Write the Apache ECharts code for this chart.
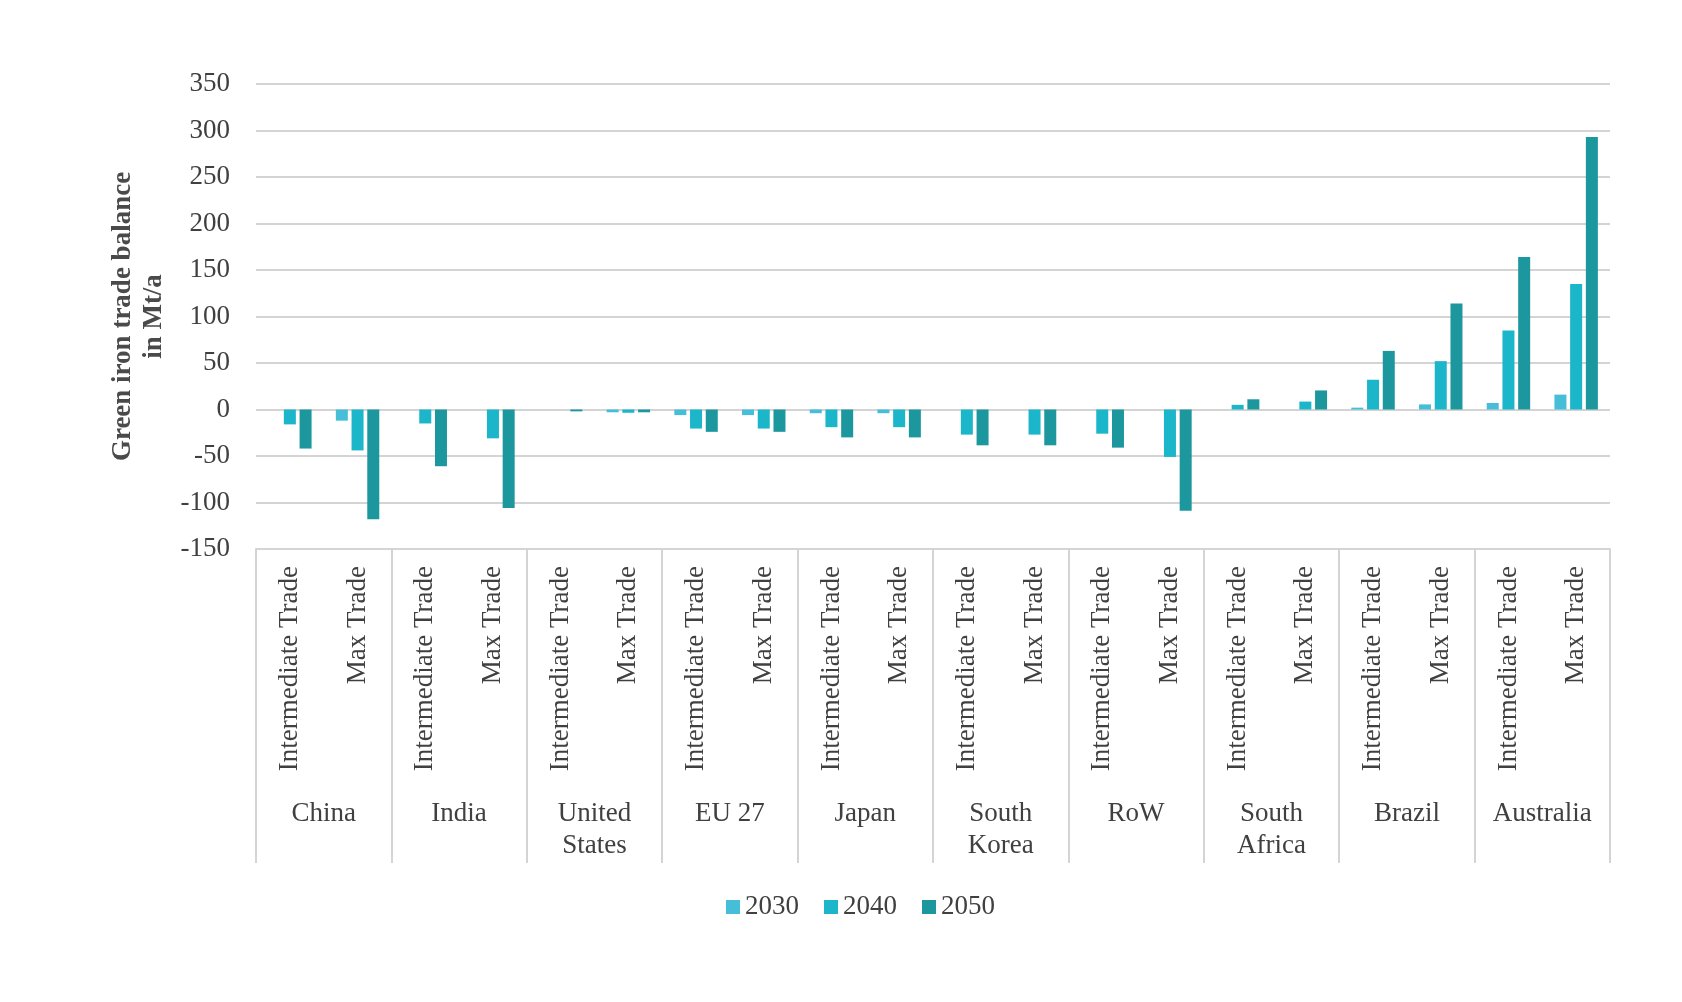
<!DOCTYPE html>
<html>
<head>
<meta charset="utf-8">
<script src="https://cdn.jsdelivr.net/npm/echarts@6/dist/echarts.min.js"></script>
<style>
html,body{margin:0;padding:0;background:#fff;}
#chart{width:1682px;height:1002px;}
</style>
</head>
<body>
<div id="chart"></div>
<script>
var countries = ['China', 'India', 'United\nStates', 'EU 27', 'Japan', 'South\nKorea', 'RoW', 'South\nAfrica', 'Brazil', 'Australia'];
var scenarios = ['Intermediate Trade', 'Max Trade'];
var seriesNames = ['2030', '2040', '2050'];
var yTicks = [-150, -100, -50, 0, 50, 100, 150, 200, 250, 300, 350];

// values per (country, scenario): China Int, China Max, India Int, India Max, ...
var v2030 = [0, -12, 0, 0, 0, -3, -6, -6, -4, -4, 0, 0, 0, 0, 0, 0, 2, 5.5, 7, 16];
var v2040 = [-16, -44, -15, -31, 0, -3.5, -20.5, -20.5, -19, -19, -27, -27, -26, -51, 5, 8.5, 32, 52, 85, 135];
var v2050 = [-42, -118, -61, -106, -2, -3, -24, -24, -30, -30, -38.5, -38.5, -41, -109, 11, 20.5, 63, 114, 164, 293];

var subCats = [];
countries.forEach(function (c) { scenarios.forEach(function (s) { subCats.push(s); }); });

var FONT = "'Liberation Serif', 'Times New Roman', serif";
var TXT = '#404040';
var GRID_COLOR = '#d4d4d4';
var colors = ['#47BED8', '#1BB6C9', '#1C979E'];

var chart = echarts.init(document.getElementById('chart'));
var valuesList = [v2030, v2040, v2050];
var series = seriesNames.map(function (n, i) {
  return {
    name: n, type: 'bar', xAxisIndex: 0, yAxisIndex: 0,
    data: valuesList[i], barWidth: 12, barGap: '31%',
    itemStyle: { color: colors[i] }
  };
});

chart.setOption({
  animation: false,
  backgroundColor: '#ffffff',
  color: colors,
  textStyle: { fontFamily: FONT },
  legend: {
    data: seriesNames, left: 726, top: 893, padding: 0,
    icon: 'rect', itemWidth: 14, itemHeight: 14, itemGap: 25,
    textStyle: { fontFamily: FONT, fontSize: 27, color: TXT, lineHeight: 28 }
  },
  grid: [
    { left: 256, top: 84, width: 1354, height: 465 },
    { left: 256, top: 84, width: 1354, height: 465 }
  ],
  xAxis: [
    {
      type: 'category', gridIndex: 0, data: subCats,
      axisLine: { show: false, onZero: false }, axisTick: { show: false },
      axisLabel: { interval: 0, rotate: 90, margin: 17, fontFamily: FONT, fontSize: 27, color: TXT }
    },
    {
      type: 'category', gridIndex: 1, data: countries, position: 'bottom',
      axisLine: { show: true, onZero: false, lineStyle: { color: GRID_COLOR, width: 2 } },
      axisTick: { show: true, interval: 0, length: 314, lineStyle: { color: GRID_COLOR, width: 2 } },
      axisLabel: { interval: 0, margin: 249, fontFamily: FONT, fontSize: 27, lineHeight: 32, color: TXT, align: 'center' },
      splitLine: { show: false }
    }
  ],
  yAxis: [
    {
      type: 'value', gridIndex: 0, min: yTicks[0], max: yTicks[yTicks.length - 1], interval: 50,
      axisLine: { show: false }, axisTick: { show: false },
      axisLabel: { margin: 26, fontFamily: FONT, fontSize: 27, color: TXT },
      splitLine: { show: true, lineStyle: { color: GRID_COLOR, width: 2 } },
      name: 'Green iron trade balance\nin Mt/a', nameLocation: 'middle', nameRotate: 90, nameGap: 82,
      nameTextStyle: { fontFamily: FONT, fontSize: 27, fontWeight: 'bold', color: '#4a4a4a', lineHeight: 31 }
    },
    {
      type: 'value', gridIndex: 1, min: yTicks[0], max: yTicks[yTicks.length - 1], interval: 50, show: false
    }
  ],
  series: series
});
</script>
</body>
</html>
